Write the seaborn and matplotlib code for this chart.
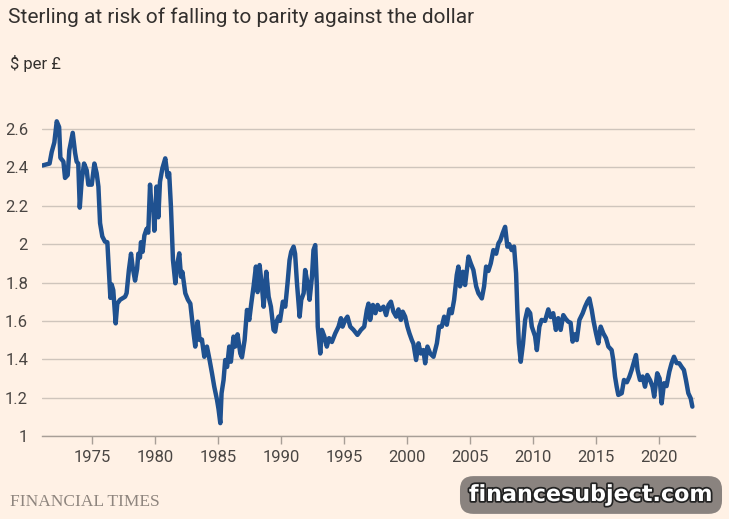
import pandas as pd
import numpy as np
import matplotlib.pyplot as plt
import matplotlib.patheffects as pe
import seaborn as sns

# $ per £ (decimal year, rate)
years = [
    1971.03, 1971.6, 1971.77, 1971.98, 1972.17, 1972.36, 1972.46, 1972.7, 1972.83,
    1973.04, 1973.17, 1973.44, 1973.63, 1973.75, 1973.88, 1974.0, 1974.15, 1974.34,
    1974.55, 1974.68, 1974.95, 1975.16, 1975.34, 1975.48, 1975.61, 1975.79, 1976.0,
    1976.19, 1976.32, 1976.43, 1976.53, 1976.66, 1976.85, 1976.98, 1977.2, 1977.6,
    1977.72, 1977.9, 1978.07, 1978.2, 1978.39, 1978.55, 1978.65, 1978.78, 1978.86,
    1978.99, 1979.13, 1979.31, 1979.44, 1979.58, 1979.71, 1979.84, 1979.92, 1980.1,
    1980.24, 1980.37, 1980.56, 1980.79, 1980.98, 1981.1, 1981.24, 1981.4, 1981.59,
    1981.71, 1981.9, 1982.04, 1982.15, 1982.38, 1982.59, 1982.78, 1983.04, 1983.17,
    1983.36, 1983.52, 1983.7, 1983.89, 1984.1, 1984.31, 1984.5, 1984.68, 1984.9,
    1985.02, 1985.16, 1985.26, 1985.42, 1985.55, 1985.7, 1985.87, 1986.0, 1986.21,
    1986.34, 1986.53, 1986.75, 1986.88, 1987.09, 1987.28, 1987.46, 1987.62, 1987.8,
    1987.99, 1988.12, 1988.28, 1988.47, 1988.6, 1988.81, 1989.0, 1989.18, 1989.39,
    1989.52, 1989.65, 1989.79, 1989.9, 1990.13, 1990.32, 1990.5, 1990.66, 1990.79,
    1990.98, 1991.1, 1991.25, 1991.46, 1991.59, 1991.78, 1991.9, 1992.09, 1992.25,
    1992.44, 1992.56, 1992.7, 1992.83, 1992.9, 1993.1, 1993.23, 1993.42, 1993.62,
    1993.8, 1994.02, 1994.29, 1994.55, 1994.74, 1994.87, 1995.08, 1995.26, 1995.48,
    1995.74, 1996.05, 1996.33, 1996.59, 1996.8, 1996.93, 1997.06, 1997.28, 1997.48,
    1997.65, 1997.86, 1998.12, 1998.33, 1998.52, 1998.71, 1998.91, 1999.13, 1999.31,
    1999.5, 1999.65, 1999.84, 2000.02, 2000.18, 2000.37, 2000.5, 2000.71, 2000.9,
    2001.08, 2001.29, 2001.43, 2001.61, 2001.83, 2002.09, 2002.36, 2002.54, 2002.75,
    2002.94, 2003.15, 2003.36, 2003.54, 2003.73, 2003.94, 2004.07, 2004.2, 2004.42,
    2004.6, 2004.87, 2005.05, 2005.26, 2005.48, 2005.66, 2005.93, 2006.11, 2006.27,
    2006.45, 2006.64, 2006.85, 2007.07, 2007.25, 2007.4, 2007.58, 2007.78, 2007.96,
    2008.1, 2008.3, 2008.49, 2008.65, 2008.75, 2008.87, 2009.02, 2009.2, 2009.37,
    2009.56, 2009.77, 2009.9, 2010.16, 2010.3, 2010.5, 2010.68, 2010.95, 2011.21,
    2011.4, 2011.6, 2011.81, 2012.0, 2012.19, 2012.4, 2012.6, 2012.79, 2012.98,
    2013.14, 2013.3, 2013.47, 2013.68, 2013.94, 2014.13, 2014.31, 2014.47, 2014.66,
    2014.8, 2015.0, 2015.18, 2015.37, 2015.58, 2015.79, 2015.98, 2016.24, 2016.37,
    2016.51, 2016.64, 2016.77, 2017.04, 2017.22, 2017.45, 2017.65, 2017.83, 2018.02,
    2018.17, 2018.3, 2018.49, 2018.7, 2018.89, 2019.07, 2019.3, 2019.49, 2019.62,
    2019.86, 2020.05, 2020.21, 2020.4, 2020.6, 2020.82, 2021.0, 2021.19, 2021.4,
    2021.61, 2021.8, 2021.98, 2022.14, 2022.33, 2022.52, 2022.65,
]
rates = [
    2.41, 2.42, 2.48, 2.53, 2.64, 2.61, 2.45, 2.43, 2.345,
    2.36, 2.49, 2.58, 2.475, 2.43, 2.42, 2.19, 2.33, 2.42,
    2.385, 2.31, 2.31, 2.42, 2.37, 2.30, 2.11, 2.04, 2.013,
    2.01, 1.848, 1.72, 1.79, 1.76, 1.587, 1.69, 1.71, 1.726,
    1.745, 1.865, 1.95, 1.88, 1.81, 1.87, 1.95, 1.93, 2.01,
    1.96, 2.045, 2.08, 2.06, 2.31, 2.18, 2.2, 2.07, 2.30,
    2.14, 2.325, 2.395, 2.447, 2.35, 2.37, 2.195, 1.918, 1.796,
    1.883, 1.952, 1.83, 1.855, 1.744, 1.71, 1.69, 1.535, 1.466,
    1.596, 1.50, 1.503, 1.413, 1.466, 1.396, 1.327, 1.257, 1.188,
    1.14, 1.067, 1.223, 1.292, 1.396, 1.36, 1.466, 1.387, 1.518,
    1.466, 1.53, 1.43, 1.41, 1.50, 1.657, 1.605, 1.69, 1.778,
    1.883, 1.75, 1.891, 1.778, 1.674, 1.856, 1.726, 1.674, 1.553,
    1.544, 1.60, 1.622, 1.60, 1.70, 1.674, 1.796, 1.917, 1.96,
    1.987, 1.95, 1.796, 1.622, 1.71, 1.744, 1.865, 1.796, 1.71,
    1.83, 1.969, 1.995, 1.78, 1.57, 1.43, 1.553, 1.52, 1.466,
    1.51, 1.49, 1.535, 1.57, 1.614, 1.57, 1.605, 1.622, 1.57,
    1.553, 1.527, 1.553, 1.57, 1.657, 1.69, 1.605, 1.683, 1.64,
    1.683, 1.657, 1.674, 1.63, 1.683, 1.70, 1.648, 1.622, 1.66,
    1.605, 1.648, 1.622, 1.57, 1.535, 1.50, 1.48, 1.396, 1.483,
    1.43, 1.448, 1.379, 1.466, 1.43, 1.413, 1.483, 1.57, 1.57,
    1.622, 1.58, 1.66, 1.64, 1.71, 1.839, 1.883, 1.78, 1.856,
    1.787, 1.935, 1.90, 1.865, 1.78, 1.744, 1.717, 1.78, 1.883,
    1.86, 1.90, 1.969, 1.95, 2.004, 2.02, 2.056, 2.09, 1.987,
    2.0, 1.969, 1.987, 1.848, 1.657, 1.483, 1.387, 1.48, 1.605,
    1.66, 1.64, 1.57, 1.52, 1.448, 1.57, 1.605, 1.6, 1.66,
    1.62, 1.64, 1.553, 1.614, 1.553, 1.63, 1.61, 1.596, 1.59,
    1.492, 1.53, 1.50, 1.605, 1.64, 1.674, 1.70, 1.717, 1.657,
    1.6, 1.535, 1.483, 1.57, 1.535, 1.51, 1.466, 1.448, 1.396,
    1.309, 1.257, 1.214, 1.223, 1.292, 1.28, 1.309, 1.344, 1.387,
    1.422, 1.344, 1.292, 1.31, 1.257, 1.318, 1.29, 1.257, 1.205,
    1.327, 1.3, 1.17, 1.275, 1.26, 1.335, 1.379, 1.413, 1.38,
    1.379, 1.36, 1.344, 1.292, 1.223, 1.196, 1.153,
]

y_ticks = [1, 1.2, 1.4, 1.6, 1.8, 2, 2.2, 2.4, 2.6]
y_labels = ["1", "1.2", "1.4", "1.6", "1.8", "2", "2.2", "2.4", "2.6"]
x_ticks = [1975, 1980, 1985, 1990, 1995, 2000, 2005, 2010, 2015, 2020]

df = pd.DataFrame({"year": years, "rate": rates})

bg = "#FFF1E5"
sns.set_theme(style="white")
plt.rcParams["font.family"] = ["Roboto", "DejaVu Sans"]

fig = plt.figure(figsize=(7.29, 5.19), dpi=100, facecolor=bg)
ax = fig.add_axes([42 / 729, 1 - 436 / 519, 653 / 729, 318.5 / 519])
ax.set_facecolor(bg)

sns.lineplot(data=df, x="year", y="rate", ax=ax, color="#1f5190",
             linewidth=3.2, estimator=None, zorder=3)

ax.set_xlim(1971.0, 2022.86)
ax.set_ylim(1, 2.66)
ax.set_yticks(y_ticks)
ax.set_yticklabels(y_labels)
ax.set_xticks(x_ticks)
ax.set_xlabel("")
ax.set_ylabel("")

ax.yaxis.grid(True, color="#cfc5bc", linewidth=1)
ax.xaxis.grid(False)
for s in ["top", "right", "left"]:
    ax.spines[s].set_visible(False)
ax.spines["bottom"].set_color("#a89f97")
ax.spines["bottom"].set_linewidth(1)

ax.tick_params(axis="y", length=0, pad=10, labelsize=12, labelcolor="#4a4643")
ax.tick_params(axis="x", length=6, width=1, color="#a89f97", pad=4,
               labelsize=12, labelcolor="#4a4643", bottom=True, direction="out")

fig.text(8 / 729, 1 - 17 / 519, "Sterling at risk of falling to parity against the dollar",
         fontsize=15, color="#33302e", va="center", ha="left")
fig.text(10 / 729, 1 - 64 / 519, "$ per £", fontsize=12, color="#33302e",
         va="center", ha="left")

fig.text(10 / 729, 1 - 502 / 519, "FINANCIAL TIMES", fontsize=12.5, color="#8e857e",
         family=["Liberation Serif", "DejaVu Serif"], va="center", ha="left")
fig.text(715 / 729, 1 - 507 / 519, "Source: Refinitiv", fontsize=9, color="#4a4643",
         va="center", ha="right", zorder=1)

# watermark box in the reference
t = fig.text(591 / 729, 1 - 495 / 519, "financesubject.com", fontsize=16,
             family=["DejaVu Sans"], weight="bold", color="white",
             va="center", ha="center", zorder=5,
             bbox=dict(boxstyle="round,pad=0.4,rounding_size=0.6", fc="#8a837f", ec="none"))
t.set_path_effects([pe.withStroke(linewidth=2.5, foreground="#222222")])

fig.savefig("out.png", dpi=100, facecolor=bg)
